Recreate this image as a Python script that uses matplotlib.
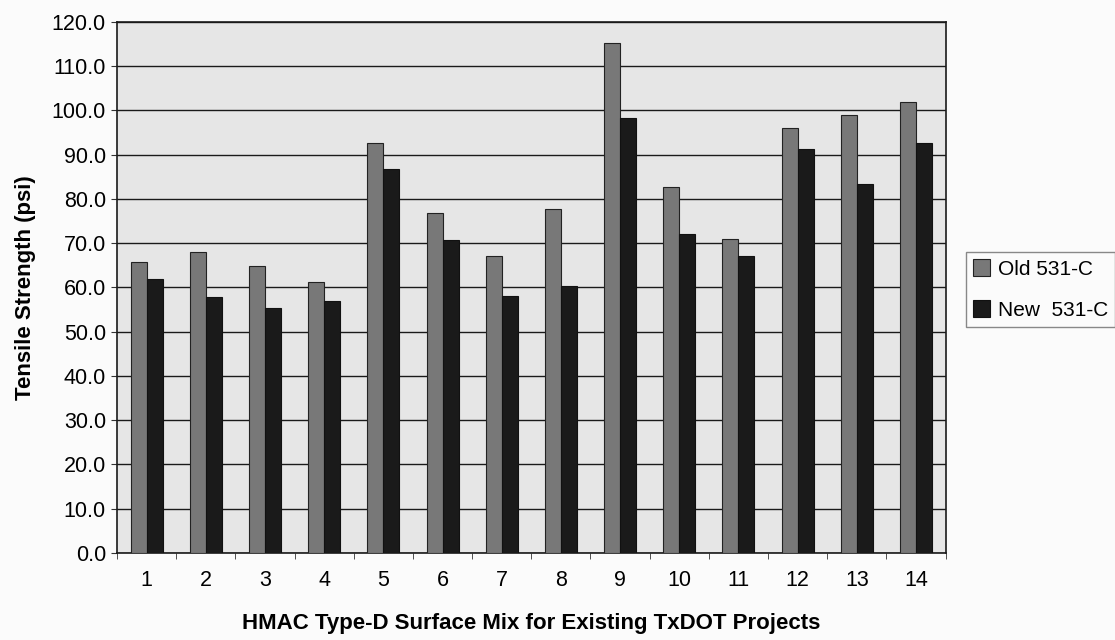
import matplotlib.pyplot as plt
import numpy as np

plt.rcParams['font.family'] = ['Liberation Sans', 'DejaVu Sans']

# data
projects = [str(i) for i in range(1, 15)]
old_531c = [65.8, 67.9, 64.8, 61.2, 92.6, 76.9, 67.0, 77.7, 115.3, 82.6, 71.0, 96.0, 99.0, 101.8]
new_531c = [61.9, 57.9, 55.3, 57.0, 86.7, 70.7, 58.1, 60.3, 98.2, 72.0, 67.0, 91.2, 83.4, 92.6]

fig = plt.figure(figsize=(11.15, 6.4), dpi=100)
fig.patch.set_facecolor('#fbfbfb')
ax = fig.add_axes([0.105, 0.136, 0.743, 0.830])
ax.set_facecolor('#e6e6e6')

x = np.arange(1, len(projects) + 1)
w = 0.27
ax.bar(x - w / 2, old_531c, w, color='#787878', edgecolor='#222222', linewidth=0.8,
       label='Old 531-C', zorder=3)
ax.bar(x + w / 2, new_531c, w, color='#1a1a1a', edgecolor='#111111', linewidth=0.8,
       label='New  531-C', zorder=3)

# gridlines
ax.set_ylim(0, 120)
ax.set_yticks(np.arange(0, 121, 10))
ax.set_yticklabels([f'{v:.1f}' for v in np.arange(0, 121, 10)], fontsize=15.5)
ax.yaxis.grid(True, color='#1a1a1a', linewidth=1.0, zorder=0)
ax.set_axisbelow(True)

ax.set_xlim(0.5, len(projects) + 0.5)
ax.set_xticks(x)
ax.set_xticklabels(projects, fontsize=15.5)
ax.tick_params(axis='x', which='major', length=0, pad=12)
ax.set_xticks(np.arange(0.5, len(projects) + 1), minor=True)
ax.tick_params(axis='x', which='minor', length=4, direction='out', color='#333333')
ax.tick_params(axis='y', length=4, direction='out', color='#333333', pad=4)

for s in ax.spines.values():
    s.set_color('#1a1a1a')
    s.set_linewidth(1.2)

ax.set_ylabel('Tensile Strength (psi)', fontsize=16, fontweight='bold', labelpad=11)
ax.set_xlabel('HMAC Type-D Surface Mix for Existing TxDOT Projects', fontsize=16,
              fontweight='bold', labelpad=16)

fig.legend(loc='center left', bbox_to_anchor=(0.866, 0.548), fontsize=15,
           frameon=True, fancybox=False, edgecolor='#888888', framealpha=1,
           facecolor='#fbfbfb', handlelength=0.8, handleheight=0.9,
           handletextpad=0.4, borderpad=0.35, labelspacing=1.0, borderaxespad=0)

fig.savefig('out.png', dpi=100, facecolor=fig.get_facecolor())
